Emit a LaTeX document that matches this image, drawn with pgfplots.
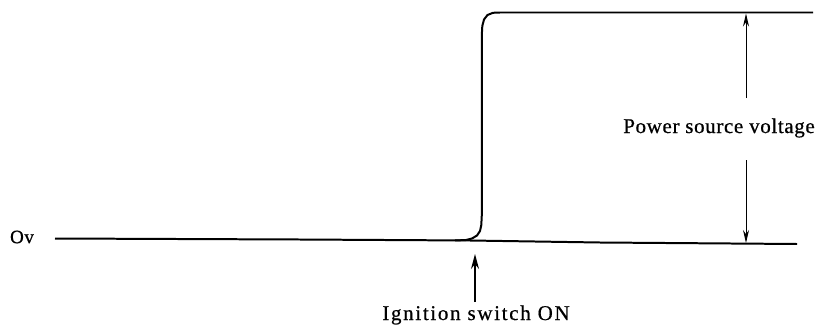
\documentclass[border=0pt]{standalone}
\usepackage{fontspec}
\setmainfont{Liberation Serif}
\newfontfamily\pwrfont[LetterSpace=3,FakeBold=0.6]{Liberation Serif}
\newfontfamily\ignfont[LetterSpace=8,FakeBold=0.6]{Liberation Serif}
\usepackage{pgfplots}
\pgfplotsset{compat=1.18}
\usetikzlibrary{arrows.meta}

\begin{document}
\begin{tikzpicture}
\begin{axis}[
    scale only axis,
    width=819bp, height=325bp,
    xmin=0, xmax=819, ymin=0, ymax=325,
    y dir=reverse,
    hide axis,
    clip=false,
]
% 0 V baseline
\addplot[black, line width=2pt] coordinates {
    (55,238.5) (300,239.5) (470,240.5) (600,242.5) (797,244)
};
% voltage step after ignition
\addplot[black, line width=2pt, line join=round] coordinates {
    (455,240.5) (466,240) (472,238.5) (477,235.5) (480,231) (481.3,225)
    (481.8,215) (481.8,35) (482.3,26) (484,19.5) (487.5,15) (493,12.8)
    (500,12.5) (813,12.5)
};
% dimension arrows (power source voltage)
\addplot[black, line width=1pt, -{Stealth[length=13bp,width=6bp]}] coordinates {(746,98) (746,13.5)};
\addplot[black, line width=1pt, -{Stealth[length=13bp,width=6bp]}] coordinates {(746,160) (746,243)};
% ignition switch arrow
\addplot[black, line width=1.2pt, -{Stealth[length=15bp,width=8bp]}] coordinates {(475,302) (475,254)};

\node[inner sep=0pt, font=\pwrfont\fontsize{19bp}{21bp}\selectfont] at (axis cs:22,237) {Ov};
\node[inner sep=0pt, font=\pwrfont\fontsize{21bp}{23bp}\selectfont] at (axis cs:719,128) {Power source voltage};
\node[inner sep=0pt, font=\ignfont\fontsize{21bp}{23bp}\selectfont] at (axis cs:476,315) {Ignition switch ON};
\end{axis}
\pgfresetboundingbox
\path (current axis.south west) rectangle (current axis.north east);
\end{tikzpicture}
\end{document}
